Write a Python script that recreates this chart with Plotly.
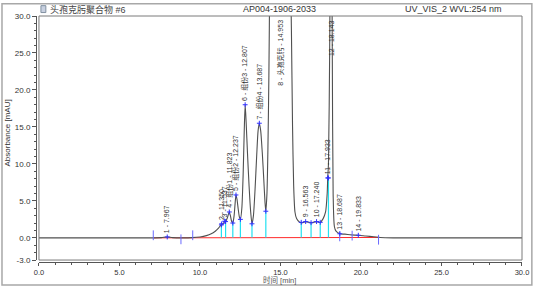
import plotly.graph_objects as go

# ---- chromatogram trace (time [min], absorbance [mAU])
time_min = [0.0, 7.0, 7.6, 7.967, 8.3, 9.0, 9.5, 10.0, 10.4, 10.7, 10.95, 11.15,
            11.3, 11.35, 11.42, 11.537, 11.59, 11.7, 11.77, 11.823, 11.9, 11.97,
            12.04, 12.12, 12.18, 12.237, 12.3, 12.38, 12.45, 12.51, 12.6, 12.68,
            12.75, 12.807, 12.87, 12.95, 13.05, 13.15, 13.23, 13.32, 13.42, 13.52,
            13.61, 13.687, 13.77, 13.87, 13.96, 14.04, 14.09, 14.16, 14.22, 14.28,
            14.32, 14.45, 14.953, 15.45, 15.6, 15.68, 15.75, 15.82, 15.9, 16.0,
            16.19, 16.35, 16.563, 16.9, 17.24, 17.47, 17.65, 17.8, 17.9, 17.933,
            17.98, 18.05, 18.143, 18.22, 18.27, 18.35, 18.45, 18.687, 19.0, 19.4,
            19.833, 20.3, 20.8, 21.2, 22.0, 30.0]
absorbance = [0.0, 0.0, 0.03, 0.12, 0.03, 0.0, 0.03, 0.12, 0.3, 0.55, 0.9, 1.3,
              1.75, 1.9, 1.85, 2.25, 2.2, 2.7, 3.2, 3.5, 2.9, 2.2,
              2.0, 3.0, 4.6, 5.8, 5.2, 3.8, 2.8, 2.5, 4.0, 8.5,
              14.5, 18.0, 15.5, 11.5, 7.0, 3.5, 1.9, 3.0, 6.5, 11.0,
              14.5, 15.5, 14.5, 11.5, 8.0, 4.8, 3.6, 6.0, 12.0, 22.0,
              32.0, 80.0, 150.0, 80.0, 40.0, 28.0, 15.0, 7.0, 3.5, 2.6,
              2.1, 2.05, 2.2, 2.05, 2.2, 2.1, 2.6, 3.5, 6.0, 8.1,
              10.0, 24.0, 55.0, 24.0, 6.0, 1.5, 0.9, 0.55, 0.5, 0.4,
              0.35, 0.25, 0.15, 0.05, 0.0, 0.0]

# ---- peak table
peak_no = [1, 2, 3, 4, 5, 6, 7, 8, 9, 10, 11, 12, 13, 14]
peak_name = ["", "", "", "组份1", "组份2", "组份3", "组份4", "头孢克肟",
             "", "", "", "", "", ""]
peak_rt = [7.967, 11.350, 11.537, 11.823, 12.237, 12.807, 13.687, 14.953,
           16.563, 17.240, 17.933, 18.143, 18.687, 19.833]
peak_height = [0.12, 1.9, 2.25, 3.5, 5.8, 18.0, 15.5, 150.0,
               2.2, 2.2, 8.1, 55.0, 0.55, 0.35]

# ---- integration: drop lines, delimiters, baseline
drop_t = [11.33, 11.59, 12.04, 12.51, 13.23, 14.09, 16.29, 16.9, 17.47, 17.98]
drop_v = [1.75, 2.2, 2.0, 2.5, 1.9, 3.6, 2.1, 2.05, 2.1, 8.1]
delim_t = [7.1, 8.82, 9.55, 18.68, 19.45, 21.09]
delim_v = [0.35, -0.2, 0.35, 0.2, 0.3, -0.25]
base_t = [7.1, 21.09]
base_v = [0.0, 0.05]

y_ticks = [-3, 0, 5, 10, 15, 20, 25, 30]
x_ticks = [0, 5, 10, 15, 20, 25, 30]
Y_MAX = 30

FONT = "Liberation Sans, Arial, Noto Sans CJK SC, sans-serif"

fig = go.Figure()

# integration baseline (red)
fig.add_trace(go.Scatter(x=base_t, y=base_v, mode="lines",
                         line=dict(color="#ff2a2a", width=1), hoverinfo="skip"))

# cyan drop lines
dx, dy = [], []
for t, v in zip(drop_t, drop_v):
    dx += [t, t, None]
    dy += [0.05, v, None]
fig.add_trace(go.Scatter(x=dx, y=dy, mode="lines",
                         line=dict(color="#22e0f0", width=1.2), hoverinfo="skip"))

# chromatogram
fig.add_trace(go.Scatter(x=time_min, y=absorbance, mode="lines",
                         line=dict(color="#505050", width=1.1, shape="spline",
                                   smoothing=0.7),
                         hoverinfo="skip"))

# delimiter ticks
fig.add_trace(go.Scatter(x=delim_t, y=delim_v, mode="markers",
                         marker=dict(symbol="line-ns", size=7,
                                     line=dict(color="#6a6aff", width=1)),
                         hoverinfo="skip"))

# apex / drop markers
ax_, ay_ = [], []
for t, v in zip(peak_rt, peak_height):
    if v < Y_MAX:
        ax_.append(t)
        ay_.append(v)
ax_ += drop_t
ay_ += drop_v
fig.add_trace(go.Scatter(x=ax_, y=ay_, mode="markers",
                         marker=dict(symbol="cross-thin", size=3.5,
                                     line=dict(color="#3030ff", width=1)),
                         hoverinfo="skip"))

# peak labels
for n, name, t, h in zip(peak_no, peak_name, peak_rt, peak_height):
    txt = f"{n} - {name} - {t:.3f}" if name else f"{n} - {t:.3f}"
    if h >= Y_MAX:
        fig.add_annotation(x=t, y=Y_MAX, text=txt, textangle=-90, showarrow=False,
                           xanchor="center", yanchor="top", yshift=-2,
                           font=dict(family=FONT, size=7, color="#333333"))
    else:
        fig.add_annotation(x=t, y=h, text=txt, textangle=-90, showarrow=False,
                           xanchor="center", yanchor="bottom", yshift=2,
                           font=dict(family=FONT, size=7, color="#333333"))

# header texts
fig.add_annotation(xref="paper", yref="paper", x=(48 - 36) / 493, y=(264 - 7) / 250,
                   text="头孢克肟聚合物 #6", showarrow=False, xanchor="left",
                   yanchor="middle", font=dict(family=FONT, size=9, color="#444444"))
fig.add_annotation(xref="paper", yref="paper", x=(283 - 36) / 493, y=(264 - 7) / 250,
                   text="AP004-1906-2033", showarrow=False, xanchor="center",
                   yanchor="middle", font=dict(family=FONT, size=9, color="#333333"))
fig.add_annotation(xref="paper", yref="paper", x=(511 - 36) / 493, y=(264 - 7) / 250,
                   text="UV_VIS_2 WVL:254 nm", showarrow=False, xanchor="right",
                   yanchor="middle", font=dict(family=FONT, size=9, color="#333333"))
# axis titles
fig.add_annotation(xref="paper", yref="paper", x=(283 - 36) / 493, y=(264 - 282.5) / 250,
                   text="时间 [min]", showarrow=False, borderpad=0,
                   xanchor="center", yanchor="middle",
                   font=dict(family=FONT, size=7.5, color="#555555"))
fig.add_annotation(xref="paper", yref="paper", x=(7 - 36) / 493, y=(264 - 133) / 250,
                   text="Absorbance [mAU]", textangle=-90, showarrow=False,
                   xanchor="center", yanchor="middle",
                   font=dict(family=FONT, size=8, color="#333333"))

# frame and outer border
fig.add_shape(type="rect", xref="x domain", yref="y domain", x0=0, x1=1, y0=0, y1=1,
              line=dict(color="#7a7a7a", width=1))
fig.add_shape(type="rect", xref="paper", yref="paper",
              x0=(1.5 - 36) / 493, x1=(539 - 36) / 493,
              y0=(264 - 287.5) / 250, y1=(264 - 1.5) / 250,
              line=dict(color="#a8a8a8", width=1.5))
# title icon
fig.add_shape(type="rect", xref="paper", yref="paper",
              x0=(41 - 36) / 493, x1=(46 - 36) / 493,
              y0=(264 - 10.5) / 250, y1=(264 - 3.5) / 250,
              line=dict(color="#8090a0", width=1), fillcolor="#c8d0e0")

fig.update_layout(
    width=541, height=289,
    margin=dict(l=36, r=12, t=14, b=25),
    paper_bgcolor="white", plot_bgcolor="white",
    showlegend=False,
    xaxis=dict(domain=[3 / 493, 1], range=[0, 30], anchor="free", position=0,
               tickmode="array", tickvals=x_ticks, ticktext=[f"{v:.1f}" for v in x_ticks],
               ticks="outside", ticklen=3, tickcolor="#555555", showline=True,
               linecolor="#555555", linewidth=1, showgrid=False, zeroline=False,
               tickfont=dict(family=FONT, size=7.5, color="#333333"),
               minor=dict(tickmode="linear", tick0=0, dtick=1, ticks="outside",
                          ticklen=2, tickcolor="#555555")),
    yaxis=dict(domain=[2 / 250, 1], range=[-3, 30], anchor="free", position=0,
               tickmode="array", tickvals=y_ticks, ticktext=[f"{v:.1f}" for v in y_ticks],
               ticks="outside", ticklen=4, tickcolor="#555555", showline=True,
               linecolor="#555555", linewidth=1, showgrid=False, zeroline=False,
               tickfont=dict(family=FONT, size=8, color="#333333"),
               minor=dict(tickmode="linear", tick0=0, dtick=1, ticks="outside",
                          ticklen=2, tickcolor="#555555")),
)

fig.write_html("out.html", config={"displayModeBar": False},
               post_script="document.body.style.margin='0px';document.body.style.overflow='hidden';")
